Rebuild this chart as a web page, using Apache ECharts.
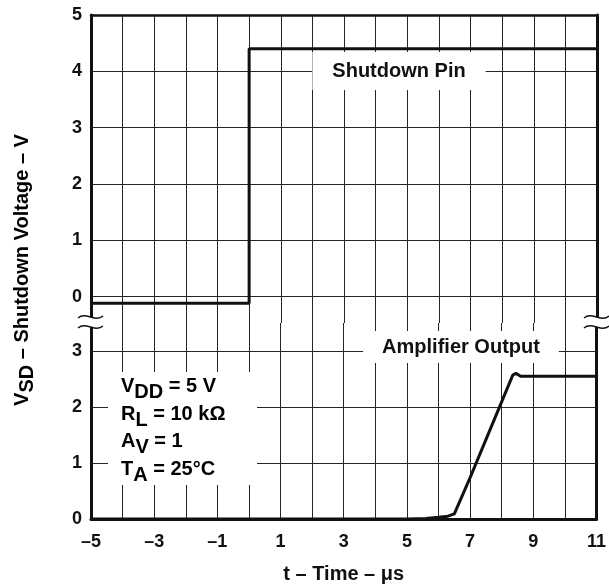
<!DOCTYPE html>
<html>
<head>
<meta charset="utf-8">
<script src="https://cdn.jsdelivr.net/npm/echarts@6/dist/echarts.min.js"></script>
<style>
  html, body { margin: 0; padding: 0; background: #fff; }
  #chart { width: 609px; height: 587px; }
</style>
</head>
<body>
<div id="chart"></div>
<script>
// time axis (µs)
const xMin = -5;
const xMax = 11;
const topYTicks = [0, 1, 2, 3, 4, 5];
const bottomYTicks = [0, 1, 2, 3];

// shutdown pin voltage [t, V]
const shutdownPin = [[-5, -0.12], [0, -0.12], [0, 4.4], [11, 4.4]];
// amplifier output voltage [t, V]
const amplifierOutput = [
  [-5, 0], [5, 0], [5.6, 0.01], [6, 0.03], [6.3, 0.05], [6.5, 0.09],
  [7, 0.74], [8.35, 2.57], [8.45, 2.6], [8.6, 2.55], [11, 2.55]
];

const FONT = '"Liberation Sans", Arial, sans-serif';
const INK = '#111';
const GRID_COLOR = '#262626';

const chart = echarts.init(document.getElementById('chart'));

function dash(v) {
  return v < 0 ? '\u2013' + (-v) : String(v);
}

const labelStyle = {
  color: INK, fontFamily: FONT, fontWeight: 'bold', fontSize: 18
};

function xAxisFor(grid, isBottom) {
  return {
    type: 'value', gridIndex: grid, min: xMin, max: xMax, interval: 1,
    position: isBottom ? 'bottom' : 'top',
    axisLine: { show: true, onZero: false, lineStyle: { color: INK, width: isBottom ? 3 : 2.5 } },
    axisTick: { show: false },
    axisLabel: isBottom ? Object.assign({
      margin: 14, showMinLabel: true, showMaxLabel: true,
      formatter: v => (Math.abs(v) % 2 === 1 ? dash(v) : '')
    }, labelStyle) : { show: false },
    splitLine: { show: true, lineStyle: { color: GRID_COLOR, width: 1 } },
    name: isBottom ? 't \u2013 Time \u2013 \u03bcs' : '',
    nameLocation: 'middle',
    nameGap: 45,
    nameTextStyle: { color: INK, fontFamily: FONT, fontWeight: 'bold', fontSize: 20 }
  };
}

function yAxisFor(grid, min, max, ticks, side) {
  const left = side === 'left';
  return {
    type: 'value', gridIndex: grid, min: min, max: max, position: side,
    axisLine: { show: true, onZero: false, lineStyle: { color: INK, width: 3 } },
    axisTick: { show: false, customValues: ticks },
    axisLabel: left ? Object.assign({ margin: 9, customValues: ticks }, labelStyle) : { show: false },
    splitLine: { show: left, lineStyle: { color: GRID_COLOR, width: 1 } }
  };
}

function breakMark(cx, cy) {
  const els = [{
    type: 'rect', z: 100,
    shape: { x: cx - 10, y: cy - 5, width: 20, height: 10 },
    style: { fill: '#fff' }
  }];
  [-5, 5].forEach(dy => {
    els.push({
      type: 'bezierCurve', z: 101,
      shape: {
        x1: cx - 13, y1: cy + dy + 1, x2: cx + 12, y2: cy + dy - 1,
        cpx1: cx - 5, cpy1: cy + dy - 6, cpx2: cx + 4, cpy2: cy + dy + 6
      },
      style: { stroke: INK, lineWidth: 1.4, fill: null }
    });
  });
  return els;
}

const richBase = { fontFamily: FONT, fontWeight: 'bold', fontSize: 20, lineHeight: 27.5, color: INK };
const richSub = Object.assign({}, richBase, { padding: [12, 0, 0, 0] });

chart.setOption({
  animation: false,
  backgroundColor: '#fff',
  grid: [
    { left: 91, right: 12, top: 15, bottom: 264 },
    { left: 91, right: 12, top: 323, bottom: 68 }
  ],
  xAxis: [xAxisFor(0, false), xAxisFor(1, true)],
  yAxis: [
    yAxisFor(0, -0.47, 5, topYTicks, 'left'),
    yAxisFor(0, -0.47, 5, topYTicks, 'right'),
    yAxisFor(1, 0, 3.5, bottomYTicks, 'left'),
    yAxisFor(1, 0, 3.5, bottomYTicks, 'right')
  ],
  series: [
    {
      name: 'Shutdown Pin', type: 'line', xAxisIndex: 0, yAxisIndex: 0,
      data: shutdownPin, showSymbol: false, z: 5,
      lineStyle: { color: INK, width: 3 }
    },
    {
      name: 'Amplifier Output', type: 'line', xAxisIndex: 1, yAxisIndex: 2,
      data: amplifierOutput, showSymbol: false, z: 5,
      lineStyle: { color: INK, width: 3 }
    }
  ],
  graphic: [
    {
      type: 'text', x: 399, y: 71, z: 100,
      style: {
        text: 'Shutdown Pin', font: 'bold 20px ' + FONT, fill: INK,
        align: 'center', verticalAlign: 'middle',
        backgroundColor: '#fff', padding: [9, 20]
      }
    },
    {
      type: 'text', x: 461, y: 347, z: 100,
      style: {
        text: 'Amplifier Output', font: 'bold 20px ' + FONT, fill: INK,
        align: 'center', verticalAlign: 'middle',
        backgroundColor: '#fff', padding: [6, 19]
      }
    },
    {
      type: 'rect', z: 100,
      shape: { x: 108, y: 372, width: 149, height: 113 },
      style: { fill: '#fff' }
    },
    {
      type: 'text', x: 121, y: 373, z: 101,
      style: {
        text: [
          '{n|V}{s|DD}{n| = 5 V}',
          '{n|R}{s|L}{n| = 10 k\u03a9}',
          '{n|A}{s|V}{n| = 1}',
          '{n|T}{s|A}{n| = 25\u00b0C}'
        ].join('\n'),
        align: 'left', verticalAlign: 'top',
        rich: { n: richBase, s: richSub }
      }
    },
    {
      type: 'text', x: 22, y: 270, rotation: Math.PI / 2, z: 100,
      style: {
        text: '{n|V}{s|SD}{n| \u2013 Shutdown Voltage \u2013 V}',
        align: 'center', verticalAlign: 'middle',
        rich: {
          n: Object.assign({}, richBase, { lineHeight: 24 }),
          s: Object.assign({}, richSub, { lineHeight: 24, padding: [10, 0, 0, 0] })
        }
      }
    }
  ].concat(breakMark(91, 322), breakMark(597, 322))
});
</script>
</body>
</html>
